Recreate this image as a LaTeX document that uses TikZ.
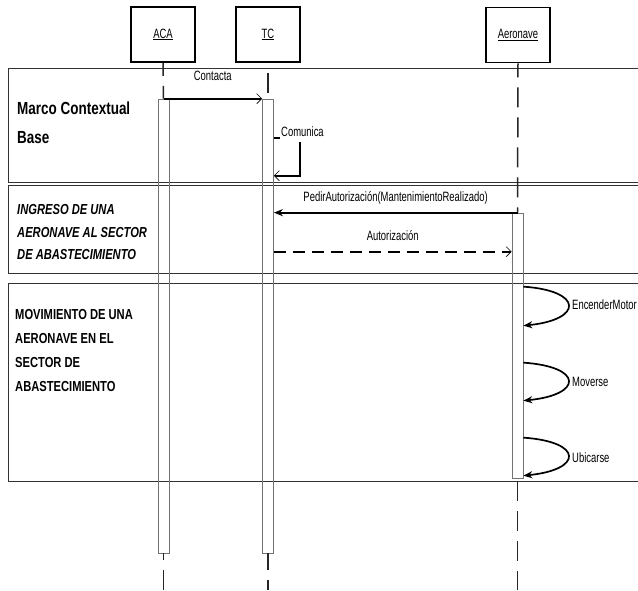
\documentclass[tikz,border=0pt]{standalone}
\usepackage{fontspec}
\setmainfont{Liberation Sans}[FakeStretch=0.7]
\newfontfamily\titlefont{Liberation Sans}[FakeStretch=0.77]
\usetikzlibrary{arrows.meta, positioning, shapes, calc}

\tikzset{
  actor/.style={rectangle, draw, line width=1.8pt, minimum width=64pt, minimum height=55pt, inner sep=0pt, font=\fontsize{13.5}{15}\selectfont},
  activation/.style={rectangle, draw=black!55, line width=0.7pt, minimum width=11pt, inner sep=0pt},
  lifeline/.style={draw=black!85, line width=1.5pt, dash pattern=on 20pt off 10pt},
  frameline/.style={draw=black!80, line width=0.9pt},
  msg/.style={line width=1.7pt},
  openhead/.style={-{Straight Barb[length=5pt, width=10pt, line width=0.7pt]}},
  fullhead/.style={-{Stealth[length=9pt, width=7pt]}},
  lbl/.style={inner sep=1pt, font=\fontsize{13.5}{15}\selectfont},
  frametitle/.style={anchor=west, align=left, inner sep=0pt}
}

\begin{document}
\begin{tikzpicture}[x=1pt, y=-1pt]
    \useasboundingbox (0,0) rectangle (638,590);

    % combined fragments
    \draw[frameline] (638,68) -- (8,68) -- (8,182) -- (638,182);
    \draw[frameline] (638,185) -- (8,185) -- (8,273) -- (638,273);
    \draw[frameline] (638,283) -- (8,283) -- (8,481) -- (638,481);

    \node (marcoTitle) [frametitle, font=\titlefont\bfseries\fontsize{17.5}{29}\selectfont] at (17,122.5) {Marco Contextual\\Base};
    \node (ingresoTitle) [frametitle, font=\titlefont\bfseries\itshape\fontsize{14.5}{22.5}\selectfont] at (17,232.5) {INGRESO DE UNA\\AERONAVE AL SECTOR\\DE ABASTECIMIENTO};
    \node (movimientoTitle) [frametitle, font=\titlefont\bfseries\fontsize{14.5}{24}\selectfont] at (15,351) {MOVIMIENTO DE UNA\\AERONAVE EN EL\\SECTOR DE\\ABASTECIMIENTO};

    % participants
    \node (ACA) [actor] at (163,34.5) {\underline{ACA}};
    \node (TC) [actor] at (268,34.5) {\underline{TC}};
    \node (Aeronave) [actor] at (518,35) {\underline{Aeronave}};

    % activation bars
    \node (ACAbar) [activation, minimum height=454pt] at (163.5,326) {};
    \node (TCbar) [activation, minimum height=454pt] at (268,326) {};
    \node (Aerobar) [activation, minimum height=265pt] at (517.5,345.5) {};

    \coordinate (ACAend) at (163.5,590);
    \coordinate (TCend) at (268,590);
    \coordinate (Aeroend) at (517.5,590);

    % lifelines
    \draw[lifeline, dash phase=7pt] (ACA.south) -- (ACAbar.north);
    \draw[lifeline, dash phase=13pt] (ACAbar.south) -- (ACAend);
    \draw[lifeline, dash phase=20pt] (TC.south) -- (TCbar.north);
    \draw[lifeline, dash phase=3pt] (TCbar.south) -- (TCend);
    \draw[lifeline, dash phase=6pt] (Aeronave.south) -- (Aerobar.north);
    \draw[lifeline, dash phase=27pt] (Aerobar.south) -- (Aeroend);

    % messages
    \draw[msg, openhead] (ACAbar.north) -- node[lbl, above=16pt] (contactaLbl) {Contacta} (TCbar.north west);
    \draw[msg, openhead] ($(TCbar.north east)+(0,39)$) -- ++(26,0) -- ++(0,38) -- ($(TCbar.north east)+(0,77)$);
    \node (comunicaLbl) [lbl, fill=white, anchor=west, inner ysep=5pt] at (280,132) {Comunica};

    \draw[msg, fullhead] (Aerobar.north) -- node[lbl, above=6.5pt] (pedirLbl) {PedirAutorización(MantenimientoRealizado)} ($(TCbar.north east)+(0,114)$);
    \draw[msg, openhead, dash pattern=on 12pt off 7pt] ($(TCbar.north east)+(0,153)$) -- node[lbl, above=9pt] (autorizacionLbl) {Autorización} ($(Aerobar.north west)+(0,39)$);

    % self messages
    \draw[msg, fullhead] ($(Aerobar.north east)+(0,74)$) .. controls +(60,4) and +(60,-6) .. ($(Aerobar.north east)+(0,113)$);
    \node (encenderLbl) [lbl, anchor=west] at (571,305) {EncenderMotor};

    \draw[msg, fullhead] ($(Aerobar.north east)+(0,150)$) .. controls +(60,4) and +(60,-6) .. ($(Aerobar.north east)+(0,188)$);
    \node (moverseLbl) [lbl, anchor=west] at (571,382) {Moverse};

    \draw[msg, fullhead] ($(Aerobar.north east)+(0,225)$) .. controls +(60,4) and +(60,-6) .. ($(Aerobar.north east)+(0,263)$);
    \node (ubicarseLbl) [lbl, anchor=west] at (571,458) {Ubicarse};

\end{tikzpicture}
\end{document}
